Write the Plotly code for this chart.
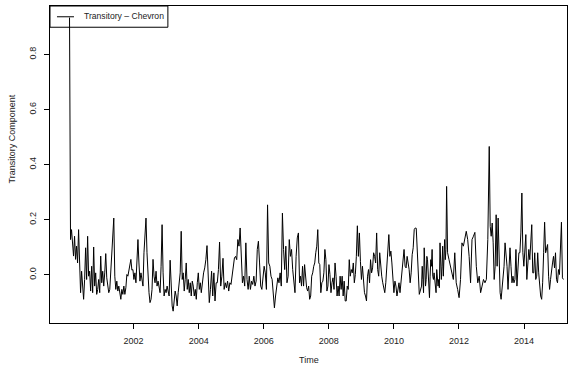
import numpy as np
import plotly.graph_objects as go

# Transitory component of the Chevron price series, read in consecutive spans.
span_start = [2000.03, 2004.08, 2007.13, 2010.85, 2011.65, 2012.96]
span_end = [2004.05, 2007.10, 2010.78, 2011.62, 2012.93, 2015.21]

values_2000_2004 = [
    0.934, 0.128, 0.164, 0.116, 0.068, 0.140, 0.056, 0.104, 0.043, 0.164,
    0.068, -0.065, 0.013, -0.065, -0.089, -0.017, 0.098, -0.017, 0.140, -0.005,
    0.013, -0.059, 0.031, -0.065, 0.101, -0.041, 0.007, -0.071, -0.053, -0.017,
    -0.065, 0.068, -0.029, 0.013, -0.041, 0.007, 0.077, -0.011, -0.041, -0.065,
    -0.053, 0.007, 0.083, 0.110, 0.206, -0.005, -0.053, -0.023, -0.059, -0.041,
    -0.065, -0.089, -0.053, -0.071, -0.041, -0.071, -0.047, 0.001, -0.005, 0.019,
    0.031, 0.056, 0.017, 0.019, -0.017, 0.007, -0.029, 0.031, 0.128, 0.043,
    -0.023, 0.007, -0.017, -0.041, 0.080, 0.164, 0.206, 0.080, -0.017, -0.065,
    -0.101, -0.089, -0.053, 0.056, -0.005, -0.029, 0.013, -0.041, -0.023, -0.041,
    -0.065, 0.031, 0.182, 0.007, -0.077, -0.053, -0.065, -0.041, -0.065, -0.077,
    0.053, -0.065, -0.113, -0.132, -0.089, -0.059, -0.077, -0.113, -0.065, -0.017,
    0.007, 0.158, -0.017, 0.007, -0.059, -0.017, 0.043, -0.053, -0.017, -0.065,
    -0.029, -0.077, -0.023, -0.041, -0.077, -0.053, -0.089, -0.029, 0.007, -0.053,
    -0.029,
]

values_2004_2007 = [
    -0.065, -0.017, 0.007, 0.025, 0.055, 0.106, -0.029, -0.101, -0.053, 0.013,
    -0.077, 0.007, -0.095, -0.029, -0.029, 0.019, 0.119, -0.041, -0.005, 0.060,
    -0.053, -0.029, -0.047, -0.023, -0.059, -0.029, -0.035, 0.001, 0.031, 0.061,
    0.067, 0.055, 0.128, 0.104, 0.170, 0.092, -0.029, -0.005, -0.041, 0.116,
    -0.017, -0.053, -0.005, -0.053, -0.023, -0.035, -0.005, -0.041, -0.023, 0.092,
    0.122, 0.043, -0.041, -0.053, -0.005, 0.031, 0.007, -0.053, 0.254, 0.043,
    0.031, -0.005, -0.017, -0.065, -0.120, -0.077, -0.029, -0.011, -0.029, 0.007,
    -0.041, 0.224, 0.092, 0.019, 0.104, -0.029, -0.005, 0.128, 0.067, 0.092,
    0.019, -0.029, -0.065, 0.067, 0.134, 0.152, -0.029,
]

values_2007_2010 = [
    -0.005, -0.041, 0.031, -0.041, 0.037, -0.017, -0.047, -0.059, -0.041, -0.089,
    -0.077, -0.005, 0.007, 0.031, 0.043, 0.080, 0.104, 0.164, 0.043, 0.037,
    -0.065, -0.029, -0.023, 0.007, 0.092, 0.055, -0.059, -0.041, 0.037, 0.001,
    -0.065, -0.029, -0.011, -0.053, 0.043, -0.005, -0.077, -0.041, -0.077, -0.005,
    -0.053, -0.005, -0.077, -0.023, -0.095, -0.095, -0.041, -0.053, 0.055, -0.005,
    0.019, 0.007, 0.043, -0.029, 0.001, 0.067, 0.178, 0.067, 0.152, 0.049,
    -0.017, 0.031, -0.029, -0.065, -0.077, -0.095, -0.005, 0.019, -0.029, 0.055,
    0.007, 0.025, 0.080, 0.067, 0.043, 0.152, 0.019, -0.005, 0.080, 0.031,
    -0.005, -0.029, -0.053, -0.065, -0.029, 0.031, 0.092, 0.146, 0.067, 0.086,
    0.043, -0.029, -0.065, -0.023, -0.041, -0.077, -0.053, -0.029, -0.065, -0.029,
    0.019, 0.067, 0.092, 0.031, 0.025, 0.067, 0.043, 0.019, -0.029, 0.007,
    0.073, 0.098, 0.164, 0.170, 0.169, 0.092, 0.055, -0.071,
]

values_2010_2011 = [
    -0.041, 0.031, -0.017, -0.065, 0.098, 0.031, -0.041, -0.017, 0.067, 0.055,
    0.007, -0.065, -0.083, -0.005, 0.055, 0.031, 0.092, -0.005, -0.017, 0.007,
    -0.029, -0.041, -0.065, 0.019, -0.041, -0.041, -0.017, -0.047, 0.116, 0.031,
    -0.017, 0.031, 0.104, -0.005, 0.043, 0.128, 0.055, 0.092, 0.321,
]

values_2011_2012 = [
    0.080, 0.055, 0.031, -0.005, -0.017, 0.080, -0.029, -0.053, -0.083, -0.017,
    0.116, 0.104, 0.140, 0.158, 0.128, 0.067, -0.029, 0.128, 0.140, 0.154,
    0.031, -0.029, -0.005, -0.065, -0.041, -0.017, -0.029, -0.017, 0.128, 0.466,
]

values_2012_2015 = [
    0.176, 0.140, 0.188, 0.116, -0.017, 0.031, 0.218, 0.031, 0.206, -0.005,
    -0.065, -0.089, -0.041, 0.019, 0.031, 0.116, 0.080, 0.031, -0.053, 0.007,
    0.098, 0.031, -0.029, -0.005, -0.029, -0.017, 0.092, -0.041, 0.007, 0.080,
    0.080, 0.152, 0.297, 0.080, 0.031, 0.092, 0.146, -0.017, 0.055, 0.092,
    0.055, 0.128, 0.182, 0.007, 0.007, 0.080, -0.017, -0.005, 0.080, 0.007,
    -0.053, -0.077, -0.089, -0.029, 0.080, 0.191, 0.080, 0.104, 0.110, -0.005,
    -0.053, -0.017, 0.031, 0.043, 0.067, 0.025, 0.080, -0.017, -0.029, 0.019,
    0.001, 0.092, 0.191, -0.011, -0.017,
]

x_ticks = [2002, 2004, 2006, 2008, 2010, 2012, 2014]
y_ticks = [0.0, 0.2, 0.4, 0.6, 0.8]
series_name = "Transitory \u2013 Chevron"

segments = [values_2000_2004, values_2004_2007, values_2007_2010,
            values_2010_2011, values_2011_2012, values_2012_2015]
time = np.concatenate([
    np.linspace(a, b, len(v)) for a, b, v in zip(span_start, span_end, segments)
])
value = np.concatenate([np.array(v) for v in segments])

FONT = "Liberation Sans, Arial, Helvetica, sans-serif"
TXT = "#222"

fig = go.Figure()
fig.add_trace(go.Scatter(
    x=time, y=value, mode="lines",
    line=dict(color="black", width=1),
    name=series_name, showlegend=False,
))

axis_common = dict(
    showline=True, mirror=True, linecolor="black", linewidth=1,
    ticks="outside", ticklen=5, tickcolor="black", tickwidth=1,
    showgrid=False, zeroline=False,
    tickfont=dict(family=FONT, size=9, color=TXT),
)

# Boxed key in the top-left corner of the plotting region
key_shapes = [
    dict(type="rect", xref="paper", yref="paper",
         x0=0, x1=0.228, y0=0.933, y1=1.0,
         line=dict(color="black", width=1), fillcolor="rgba(0,0,0,0)"),
    dict(type="line", xref="paper", yref="paper",
         x0=0.0135, x1=0.0464, y0=0.966, y1=0.966,
         line=dict(color="black", width=1)),
]

fig.update_layout(
    width=579, height=371,
    margin=dict(l=50, r=12, t=6, b=48),
    paper_bgcolor="white", plot_bgcolor="white",
    font=dict(family=FONT, size=9, color=TXT),
    xaxis=dict(range=[1999.43, 2015.32], tickvals=x_ticks,
               ticklabelstandoff=4, **axis_common),
    yaxis=dict(range=[-0.175, 0.976], tickvals=y_ticks,
               ticktext=[f"{t:.1f}" for t in y_ticks], tickangle=-90,
               ticklabelstandoff=4, **axis_common),
    showlegend=False,
    shapes=key_shapes,
    annotations=[
        dict(text=series_name, xref="paper", yref="paper", x=0.0619, y=0.967,
             xanchor="left", yanchor="middle", showarrow=False,
             font=dict(family=FONT, size=8.6, color=TXT)),
        dict(text="Time", xref="paper", yref="paper", x=0.5, y=-0.118,
             xanchor="center", yanchor="middle", showarrow=False,
             font=dict(family=FONT, size=9, color=TXT)),
        dict(text="Transitory Component", xref="paper", yref="paper",
             x=-0.073, y=0.58, xanchor="center", yanchor="middle",
             textangle=-90, showarrow=False,
             font=dict(family=FONT, size=9, color=TXT)),
    ],
)

fig.write_html("out.html")
